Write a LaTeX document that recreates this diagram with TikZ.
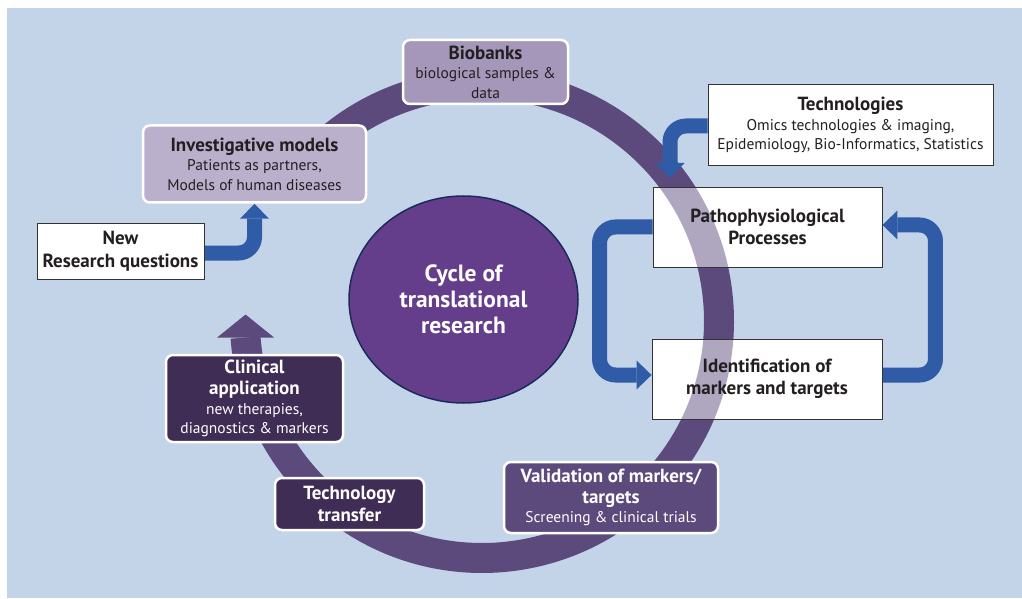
\documentclass[tikz,border=0pt]{standalone}
\usepackage{fontspec}
\setmainfont{PT Sans}
\usetikzlibrary{arrows.meta,shapes.geometric}

% Couleurs
\definecolor{fond}{HTML}{C3D4E9}
\definecolor{anneau}{HTML}{5C4A7D}
\definecolor{violetclair}{HTML}{BAB0CB}
\definecolor{violetmoyen}{HTML}{A597BA}
\definecolor{violetfonce}{HTML}{3F2D55}
\definecolor{violetcentre}{HTML}{653E8B}
\definecolor{bordcentre}{HTML}{1E2A5A}
\definecolor{bleu}{HTML}{2F5BA7}
\definecolor{texte}{HTML}{231F20}
\definecolor{cadre}{HTML}{333333}

\newcommand{\titre}{\fontsize{19}{22.5}\selectfont\bfseries}

% Calques
\pgfdeclarelayer{fondcalque}
\pgfdeclarelayer{anneaucalque}
\pgfdeclarelayer{flechecalque}
\pgfsetlayers{fondcalque,anneaucalque,flechecalque,main}

\tikzset{
  boite/.style={rectangle, draw=cadre, line width=0.9pt, fill=white, text=texte,
    align=center, inner sep=0pt, font=\fontsize{15.5}{19.5}\selectfont,
    path picture={\draw[line width=30pt, anneau, opacity=.49] (C) circle[radius=\R];}},
  bulle/.style={rectangle, rounded corners=7pt, draw=white, line width=2.5pt,
    align=center, inner sep=0pt, font=\fontsize{15.5}{19.5}\selectfont},
  fleche/.style={line width=15pt, bleu, rounded corners=16pt,
    -{Triangle[length=15pt, width=29pt, line width=0pt]}},
  anneaufleche/.style={line width=30pt, anneau,
    -{Triangle[length=23pt, width=57pt, line width=0pt]}},
}

\begin{document}
\begin{tikzpicture}[x=1pt, y=1pt]
  % Variables
  \def\R{237} % Rayon de l'anneau
  \coordinate (C) at (482,277); % Centre de l'anneau

  % Cadre et fond
  \useasboundingbox (0,0) rectangle (1022,598);
  \begin{pgfonlayer}{fondcalque}
    \fill[white] (0,0) rectangle (1022,598);
    \fill[fond] (7,0) rectangle (1022,590);
  \end{pgfonlayer}

  % Boites violettes
  \node[bulle, fill=violetmoyen, text=texte, minimum width=165, minimum height=64]
    (biobanks) at (485.5,526) {\titre Biobanks\\ biological samples \&\\ data};
  \node[bulle, fill=violetclair, text=texte, minimum width=223, minimum height=77]
    (invest) at (254.5,434) {\titre Investigative models\\ Patients as partners,\\ Models of human diseases};
  \node[bulle, fill=violetfonce, text=white, minimum width=177, minimum height=87]
    (clinic) at (254.5,199.5) {\titre Clinical\\[2pt] \titre application\\ new therapies,\\ diagnostics \& markers};
  \node[bulle, fill=violetfonce, text=white, minimum width=149, minimum height=52,
    font=\titre] (transfer) at (349.5,94) {Technology\\ transfer};
  \node[bulle, fill=anneau, text=white, minimum width=214, minimum height=71]
    (valid) at (611,100.5) {\titre Validation of markers/\\[1.5pt] \titre targets\\ Screening \& clinical trials};

  % Boites blanches
  \node[boite, minimum width=167, minimum height=56, font=\titre] (newq) at (120.5,347)
    {New\\ Research questions};
  \node[boite, minimum width=285, minimum height=81] (tech) at (850.5,473)
    {\titre Technologies\\ Omics technologies \& imaging,\\ Epidemiology, Bio-Informatics, Statistics};
  \node[boite, minimum width=229, minimum height=80, font=\titre] (patho) at (767.5,371)
    {Pathophysiological\\ Processes};
  \node[boite, minimum width=230, minimum height=80, font=\titre] (ident) at (767,219)
    {Identification of\\ markers and targets};

  % Cercle central
  \node[ellipse, draw=bordcentre, line width=1.5pt, fill=violetcentre, text=white,
    minimum width=229, minimum height=207, align=center,
    font=\fontsize{23.5}{26}\selectfont\bfseries] (cycle) at (463.5,298.5)
    {Cycle of\\ translational\\ research};

  % Anneau du cycle
  \begin{pgfonlayer}{anneaucalque}
    \draw[anneaufleche] (C) ++(140:\R) arc[start angle=140, end angle=-176, radius=\R] -- ++(0,23);
  \end{pgfonlayer}

  % Fleches bleues
  \coordinate (pointe) at (670,420);
  \begin{pgfonlayer}{flechecalque}
    \draw[fleche] ([yshift=-2pt]newq.east) -| (invest.south);
    \draw[fleche] ([yshift=-1pt]tech.west) -| (pointe);
    \draw[fleche] (patho.west) -- ++(-53,0) |- ([yshift=4pt]ident.west);
    \draw[fleche] ([yshift=4pt]ident.east) -- ++(53,0) |- ([yshift=2pt]patho.east);
  \end{pgfonlayer}
\end{tikzpicture}
\end{document}
